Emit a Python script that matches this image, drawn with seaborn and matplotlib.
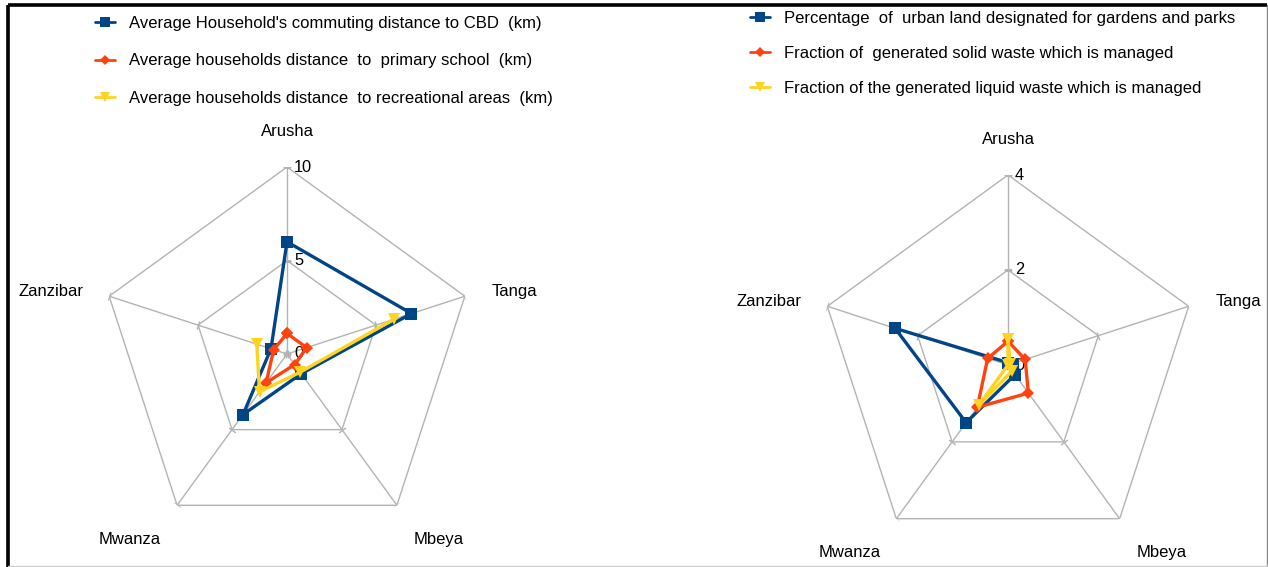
import numpy as np
import pandas as pd
import matplotlib
matplotlib.use("Agg")
import matplotlib.pyplot as plt
from matplotlib.lines import Line2D
import seaborn as sns

# ---- data -------------------------------------------------------------
cities = ["Arusha", "Tanga", "Mbeya", "Mwanza", "Zanzibar"]

access_labels = [
    "Average Household's commuting distance to CBD  (km)",
    "Average households distance  to  primary school  (km)",
    "Average households distance  to recreational areas  (km)",
]
dist_cbd = [6.0, 7.0, 1.3, 4.0, 0.9]
dist_school = [1.1, 1.1, 0.7, 1.9, 0.75]
dist_recreation = [np.nan, 6.0, 1.2, 2.5, 1.7]
access_ticks = [0, 5, 10]

env_labels = [
    "Percentage  of  urban land designated for gardens and parks",
    "Fraction of  generated solid waste which is managed",
    "Fraction of the generated liquid waste which is managed",
]
green_land = [0.05, 0.1, 0.25, 1.5, 2.5]
solid_waste = [0.5, 0.38, 0.73, 1.1, 0.45]
liquid_waste = [0.55, 0.05, 0.15, 1.05, 0.0]
env_ticks = [0, 2, 4]

# ---- style ------------------------------------------------------------
sns.set_theme(style="white")
plt.rcParams["font.family"] = ["Liberation Sans", "DejaVu Sans"]
plt.rcParams["text.color"] = "black"

palette = ["#004586", "#ff420e", "#ffd320"]
markers = ["s", "D", "v"]
msizes = [8, 6, 8]
grid_col = "#b3b3b3"
FS = 12

W, H = 1268, 567
fig = plt.figure(figsize=(W / 100, H / 100), dpi=100)
fig.patch.set_facecolor("white")

# frame around the whole figure
frame = fig.add_axes([0, 0, 1, 1], zorder=-5)
frame.set_axis_off()
frame.set_xlim(0, W)
frame.set_ylim(H, 0)
frame.plot([8, 8], [H, 5], color="black", lw=2.6, solid_capstyle="butt")
frame.plot([8, W - 1], [5, 5], color="black", lw=2.6, solid_capstyle="butt")
frame.plot([W - 1.5, W - 1.5], [5, H], color="#888888", lw=1.0)
frame.plot([8, W - 1], [H - 1.5, H - 1.5], color="#cccccc", lw=1.0)

n = len(cities)
theta = np.arange(n) * 2 * np.pi / n
# pixel offsets of each category label from its outer grid vertex
label_off = [(0, 35), (50, 5), (42, -34), (-47, -34), (-58, 5)]
PT = 0.72  # points per pixel at 100 dpi


def radar(cx, cy, rad, ticks, series, names):
    ax = fig.add_axes([(cx - rad) / W, (H - cy - rad) / H, 2 * rad / W, 2 * rad / H],
                      projection="polar")
    ax.set_theta_zero_location("N")
    ax.set_theta_direction(-1)
    rmax = ticks[-1]
    ax.set_ylim(0, rmax)
    ax.set_axis_off()

    ring = np.append(theta, theta[0])
    # pentagon grid and spokes
    for lv in ticks[1:]:
        ax.plot(ring, [lv] * (n + 1), color=grid_col, lw=1.0, zorder=1)
    for t in theta:
        ax.plot([t, t], [0, rmax], color=grid_col, lw=1.0, zorder=1)
    # small tick marks across each spoke
    for t in theta:
        phi = 90 - np.degrees(t)
        ax.plot([t] * len(ticks), ticks, ls="none", color=grid_col,
                marker=(2, 0, phi), markersize=6, mew=1.0, zorder=1)
    # value labels on the first spoke
    for lv in ticks:
        ax.annotate(str(lv), xy=(0, lv), xytext=(7 * PT, 0), textcoords="offset points",
                    ha="left", va="center", fontsize=11.8, color="black")
    # category labels
    for t, c, (dx, dy) in zip(theta, cities, label_off):
        ax.annotate(c, xy=(t, rmax), xytext=(dx * PT, dy * PT),
                    textcoords="offset points", ha="center", va="center",
                    fontsize=FS, color="black", annotation_clip=False)

    # data series, closed ring with gaps where values are missing
    for vals, col, mk, ms, nm in zip(series, palette, markers, msizes, names):
        v = np.append(np.asarray(vals, float), vals[0])
        df = pd.DataFrame({"theta": ring, "r": v})
        seg = (df["r"].isna()).cumsum()
        for _, part in df[df["r"].notna()].groupby(seg[df["r"].notna()]):
            sns.lineplot(data=part, x="theta", y="r", ax=ax, sort=False,
                         estimator=None, color=col, lw=2.4, marker=mk,
                         markersize=ms, markeredgewidth=0, zorder=3,
                         legend=False)
    ax.set_xlabel("")
    ax.set_ylabel("")
    return ax


ax1 = radar(287, 354, 187, access_ticks, [dist_cbd, dist_school, dist_recreation], access_labels)
ax2 = radar(1008, 365, 190, env_ticks, [green_land, solid_waste, liquid_waste], env_labels)


def make_legend(names, x, y, spacing):
    handles = [Line2D([0], [0], color=c, lw=2.0, marker=m, markersize=s * 0.9,
                      markeredgewidth=0)
               for c, m, s in zip(palette, markers, msizes)]
    leg = fig.legend(handles, names, loc="upper left",
                     bbox_to_anchor=(x / W, 1 - y / H), frameon=False,
                     fontsize=FS, handlelength=1.2, handletextpad=0.85,
                     labelspacing=spacing, borderpad=0, borderaxespad=0)
    for txt in leg.get_texts():
        txt.set_color("black")
    return leg


make_legend(access_labels, 95, 16, 1.35)
make_legend(env_labels, 750, 11, 1.2)

fig.savefig("out.png", dpi=100, facecolor="white")
